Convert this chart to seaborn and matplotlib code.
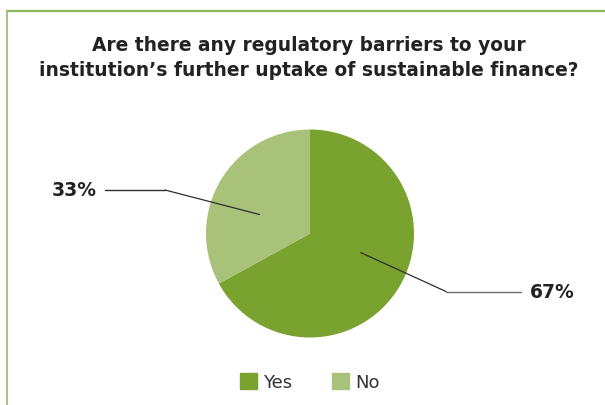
import numpy as np
import matplotlib
matplotlib.use("Agg")
import matplotlib.pyplot as plt
import seaborn as sns

# Survey answers
categories = ["Yes", "No"]
shares = [67, 33]
colors = ["#7AA22F", "#A9C27A"]
title = ("Are there any regulatory barriers to your\n"
         "institution\u2019s further uptake of sustainable finance?")

sns.set_theme(style="white")
plt.rcParams["font.family"] = ["DejaVu Sans"]

W, H = 605, 406
fig = plt.figure(figsize=(W / 100, H / 100), dpi=100)
ax = fig.add_axes([0, 0, 1, 1])

cx, cy, r = 310, H - 234.5, 104
wedges, _ = ax.pie(shares, colors=colors, startangle=90, counterclock=False,
                   center=(cx, cy), radius=r, frame=True,
                   wedgeprops=dict(linewidth=0))
ax.set_xlim(0, W)
ax.set_ylim(0, H)
ax.set_aspect("equal")
ax.axis("off")

# Panel frame: top and left rules
ax.plot([6, W], [H - 11.5, H - 11.5], color="#8DB45A", lw=1.6, solid_capstyle="butt")
ax.plot([7.3, 7.3], [0, H - 11.5], color="#A6C47B", lw=1.4, solid_capstyle="butt")

ax.text(309, H - 58, title, ha="center", va="center", fontsize=13.4,
        fontweight="bold", color="#222222", linespacing=1.42)

# Leader lines and percentage labels
label_specs = {
    "Yes": dict(elbow=(446, H - 292.5), end=(521, H - 292.5), text=(530, H - 292.5),
                ha="left", tail="#6E6E6E"),
    "No": dict(elbow=(165, H - 191), end=(105, H - 191), text=(97, H - 191),
               ha="right", tail="#2E2E2E"),
}
for w, cat, val in zip(wedges, categories, shares):
    mid = np.deg2rad((w.theta1 + w.theta2) / 2 + 10)
    sx, sy = cx + 0.52 * r * np.cos(mid), cy + 0.52 * r * np.sin(mid)
    spec = label_specs[cat]
    ax.plot([sx, spec["elbow"][0]], [sy, spec["elbow"][1]], color="#2E2E2E", lw=0.9)
    ax.plot([spec["elbow"][0], spec["end"][0]], [spec["elbow"][1], spec["end"][1]],
            color=spec["tail"], lw=1.0)
    ax.text(spec["text"][0], spec["text"][1], f"{val}%", ha=spec["ha"], va="center",
            fontsize=13.5, fontweight="bold", color="#222222")

# Legend
handles = [plt.Rectangle((0, 0), 1, 1, color=c) for c in colors]
fig.legend(handles, categories, loc="center", bbox_to_anchor=(310 / W, 1 - 383 / H),
           ncol=2, frameon=False, fontsize=13, handlelength=0.95, handleheight=0.95,
           handletextpad=0.35, columnspacing=2.2, labelcolor="#333333",
           borderpad=0, borderaxespad=0)

fig.savefig("out.png", dpi=100, facecolor="white")
